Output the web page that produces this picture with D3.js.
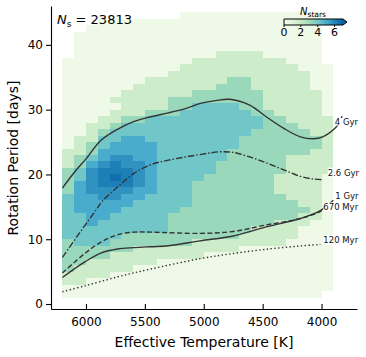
<!DOCTYPE html>
<html>
<head>
<meta charset="utf-8">
<script src="https://cdn.jsdelivr.net/npm/d3@7"></script>
<style>
  body { margin: 0; background: #fff; }
  svg { display: block; font-family: "DejaVu Sans", sans-serif; }
</style>
</head>
<body>
<div id="chart"></div>
<script>
// hot edge of each 100 K temperature bin (bin runs T .. T-100)
var tempBins = [6200, 6100, 6000, 5900, 5800, 5700, 5600, 5500, 5400, 5300, 5200, 5100,
                5000, 4900, 4800, 4700, 4600, 4500, 4400, 4300, 4200, 4100, 4000, 3900];
// lower edge of each 1-day period row, top row first
var periodRows = [44, 43, 42, 41, 40, 39, 38, 37, 36, 35, 34, 33, 32, 31, 30, 29, 28, 27, 26, 25, 24, 23,
                  22, 21, 20, 19, 18, 17, 16, 15, 14, 13, 12, 11, 10, 9, 8, 7, 6, 5, 4, 3, 2, 1, 0];
// density level per cell, one char per temperature bin
var densityRows = [
  "000000000011111111111100",
  "000111111111111111111100",
  "001111111111111111111100",
  "011111111111111111111100",
  "011111111111111111111100",
  "011111111111111111111100",
  "011111111111122221111100",
  "111111111112222222211100",
  "111111111122222222221110",
  "111111111222222222222110",
  "111111122222223322222110",
  "111111222222233322222110",
  "111112222223333332222210",
  "111122222333333332222210",
  "111112222334444332222210",
  "111122233344444433222210",
  "111223344444444443322220",
  "112234444444444443332220",
  "112344444444444433333220",
  "122445544444444333333320",
  "123455554444444333333320",
  "223555554444443333333220",
  "234566554444443333322220",
  "235676654444433333322220",
  "346777654444433333322220",
  "346787654444333333222210",
  "356777654443333333222210",
  "356666554443333333222210",
  "455665544443333333322210",
  "455555444443333333332210",
  "455554444433333333333210",
  "445544444333333333332210",
  "445444444333333333222110",
  "444444444333333322221110",
  "444443333333333222221110",
  "344433333332222222211110",
  "333333222222222111111110",
  "333322222222111111111110",
  "332222221111111111111110",
  "322222111111111111111110",
  "222211111111111111111110",
  "221111111111111111111110",
  "111111111111111111111110",
  "111111111111111111111100",
  "000000000000000000000000"
];
// mean stars per bin for each density level
var levelCounts = [0, 0.35, 1.8, 3.2, 4.1, 5.0, 5.7, 6.2, 6.6, 7.0];

var xTicks = [6000, 5500, 5000, 4500, 4000];
var yTicks = [0, 10, 20, 30, 40];
var cbarTicks = [0, 2, 4, 6];
var nStars = 23813;

// gyrochrones
var gyr4T   = [6200, 6100, 6000, 5870, 5730, 5590, 5450, 5300, 5150, 5020, 4900, 4780, 4610, 4470, 4320, 4180, 4070, 3990, 3900, 3860, 3826];
var gyr4P   = [17.9, 20.3, 22.4, 25.3, 27.0, 28.2, 28.9, 29.5, 30.2, 31.0, 31.4, 31.6, 30.7, 28.9, 27.1, 25.8, 25.5, 25.8, 26.9, 27.7, 29.0];
var gyr26T  = [6200, 6050, 5915, 5860, 5730, 5590, 5450, 5300, 5020, 4860, 4750, 4610, 4470, 4320, 4180, 4070, 3990];
var gyr26P  = [7.2, 11.1, 14.5, 15.9, 18.1, 20.2, 21.5, 22.2, 23.1, 23.5, 23.4, 22.7, 21.8, 20.7, 19.7, 19.3, 19.2];
var gyr1T   = [6200, 6010, 5870, 5730, 5590, 5450, 5300, 5030, 4750, 4470, 4180, 4010, 3900];
var gyr1P   = [4.1, 6.5, 7.9, 8.5, 8.7, 8.85, 9.0, 9.75, 10.5, 11.9, 13.2, 14.4, 16.0];
var myr670T = [6200, 6010, 5870, 5730, 5590, 5450, 5030, 4750, 4470, 4180, 4010, 3970];
var myr670P = [4.8, 7.8, 9.6, 10.7, 11.1, 11.1, 10.9, 11.2, 12.2, 13.2, 14.3, 15.1];
var myr120T = [6200, 6010, 5730, 5450, 5030, 4750, 4470, 4180, 4010];
var myr120P = [1.9, 2.8, 4.2, 5.4, 7.0, 7.8, 8.45, 8.96, 9.2];

// label anchor = where the curve reaches the right edge of the data
var curves = [
  {label: "4 Gyr",   T: gyr4T,   P: gyr4P,   dash: null,          at: [3870, 27.4], dx: -2, dy: -2,  trim: 1.5},
  {label: "2.6 Gyr", T: gyr26T,  P: gyr26P,  dash: "6.5,2,1.5,2", at: [3990, 19.2], dx: 5,  dy: -4,  trim: 0},
  {label: "1 Gyr",   T: gyr1T,   P: gyr1P,   dash: null,          at: [4010, 14.4], dx: 15, dy: -12, trim: 0},
  {label: "670 Myr", T: myr670T, P: myr670P, dash: "5,2.5",       at: [4010, 14.3], dx: 3,  dy: -1,  trim: 0},
  {label: "120 Myr", T: myr120T, P: myr120P, dash: "1.4,2.4",     at: [4010, 9.2],  dx: 3,  dy: -1,  trim: 0}
];

var W = 366, H = 357;
var svg = d3.select("#chart").append("svg").attr("width", W).attr("height", H);

var x = d3.scaleLinear().domain([6297, 3699]).range([51, 357]);
var y = d3.scaleLinear().domain([-0.77, 46]).range([309, 6]);
var colorOf = function(v){ return d3.interpolateGnBu(0.9 * Math.min(v, 7) / 7); };

// histogram cells
var cells = [];
densityRows.forEach(function(row, i){
  for (var j = 0; j < row.length; j++) {
    var lvl = +row[j];
    if (lvl > 0) cells.push({t: tempBins[j], p: periodRows[i], n: levelCounts[lvl]});
  }
});
svg.append("g").selectAll("rect").data(cells).enter().append("rect")
  .attr("x", function(d){ return x(d.t); })
  .attr("y", function(d){ return y(d.p + 1); })
  .attr("width", function(d){ return x(d.t - 100) - x(d.t); })
  .attr("height", function(d){ return y(d.p) - y(d.p + 1); })
  .attr("fill", function(d){ return colorOf(d.n); })
  .attr("shape-rendering", "crispEdges");

// curves
var line = d3.line()
  .x(function(d){ return x(d[0]); })
  .y(function(d){ return y(d[1]); })
  .curve(d3.curveCatmullRom);

curves.forEach(function(c){
  var pts = c.T.map(function(t, i){ return [t, c.P[i]]; });
  svg.append("path").datum(pts)
    .attr("d", line)
    .attr("fill", "none")
    .attr("stroke", "#333")
    .attr("stroke-width", 1.4)
    .attr("stroke-dasharray", c.dash);
});

// labels sit on a white box, so they hide the curve ends behind them
var labels = svg.append("g");
curves.forEach(function(c){
  var g = labels.append("g");
  var bg = g.append("rect").attr("fill", "#fff");
  var t = g.append("text")
    .attr("x", x(c.at[0]) + c.dx)
    .attr("y", y(c.at[1]) + c.dy)
    .attr("font-size", 8.5)
    .attr("fill", "#111")
    .text(c.label);
  var b = t.node().getBBox();
  bg.attr("x", b.x).attr("y", b.y + c.trim)
    .attr("width", b.width).attr("height", b.height - c.trim - 1);
});

// axes: y ticks point out, x ticks point into the plot
var xAxis = svg.append("g").attr("transform", "translate(0,309)")
  .call(d3.axisBottom(x).tickValues(xTicks).tickFormat(d3.format("d"))
    .tickSize(-5).tickSizeOuter(0).tickPadding(8.5));
var yAxis = svg.append("g").attr("transform", "translate(51,0)")
  .call(d3.axisLeft(y).tickValues(yTicks).tickSize(5).tickSizeOuter(0).tickPadding(3));
[xAxis, yAxis].forEach(function(a){
  a.selectAll("text").attr("font-size", 12).attr("font-family", "DejaVu Sans").attr("fill", "#000");
  a.select(".domain").attr("stroke", "#000").attr("stroke-width", 1.1);
  a.selectAll(".tick line").attr("stroke", "#000").attr("stroke-width", 1.1);
});

svg.append("text").attr("x", 204).attr("y", 347)
  .attr("text-anchor", "middle").attr("font-size", 14)
  .text("Effective Temperature [K]");
svg.append("text").attr("transform", "translate(18,158) rotate(-90)")
  .attr("text-anchor", "middle").attr("font-size", 14)
  .text("Rotation Period [days]");

// star count
var ns = svg.append("text").attr("x", 57).attr("y", 24).attr("font-size", 13);
ns.append("tspan").attr("font-style", "italic").text("N");
ns.append("tspan").attr("font-size", 9).attr("dy", 3).text("s");
ns.append("tspan").attr("dy", -3).text(" = " + nStars);

// colourbar
var cb = svg.append("g");
var cx = d3.scaleLinear().domain([0, 7]).range([284, 343]);
var grad = svg.append("defs").append("linearGradient").attr("id", "cbg");
d3.range(0, 1.01, 0.1).forEach(function(s){
  grad.append("stop").attr("offset", s).attr("stop-color", colorOf(s * 7));
});
cb.append("path")
  .attr("d", "M284,19H343L347,22L343,25H284Z")
  .attr("fill", colorOf(7));
cb.append("rect").attr("x", 284).attr("y", 19).attr("width", 59).attr("height", 6)
  .attr("fill", "url(#cbg)");
cb.append("path")
  .attr("d", "M284,19H343L347,22L343,25H284Z")
  .attr("fill", "none").attr("stroke", "#000").attr("stroke-width", 1);
cbarTicks.forEach(function(t){
  cb.append("line").attr("x1", cx(t)).attr("x2", cx(t)).attr("y1", 25).attr("y2", 27)
    .attr("stroke", "#000");
  cb.append("text").attr("x", cx(t)).attr("y", 36).attr("text-anchor", "middle")
    .attr("font-size", 11).text(t);
});
var ct = cb.append("text").attr("x", 313).attr("y", 15).attr("text-anchor", "middle").attr("font-size", 10);
ct.append("tspan").attr("font-style", "italic").text("N");
ct.append("tspan").attr("font-size", 7.5).attr("dy", 2).text("stars");
</script>
</body>
</html>
